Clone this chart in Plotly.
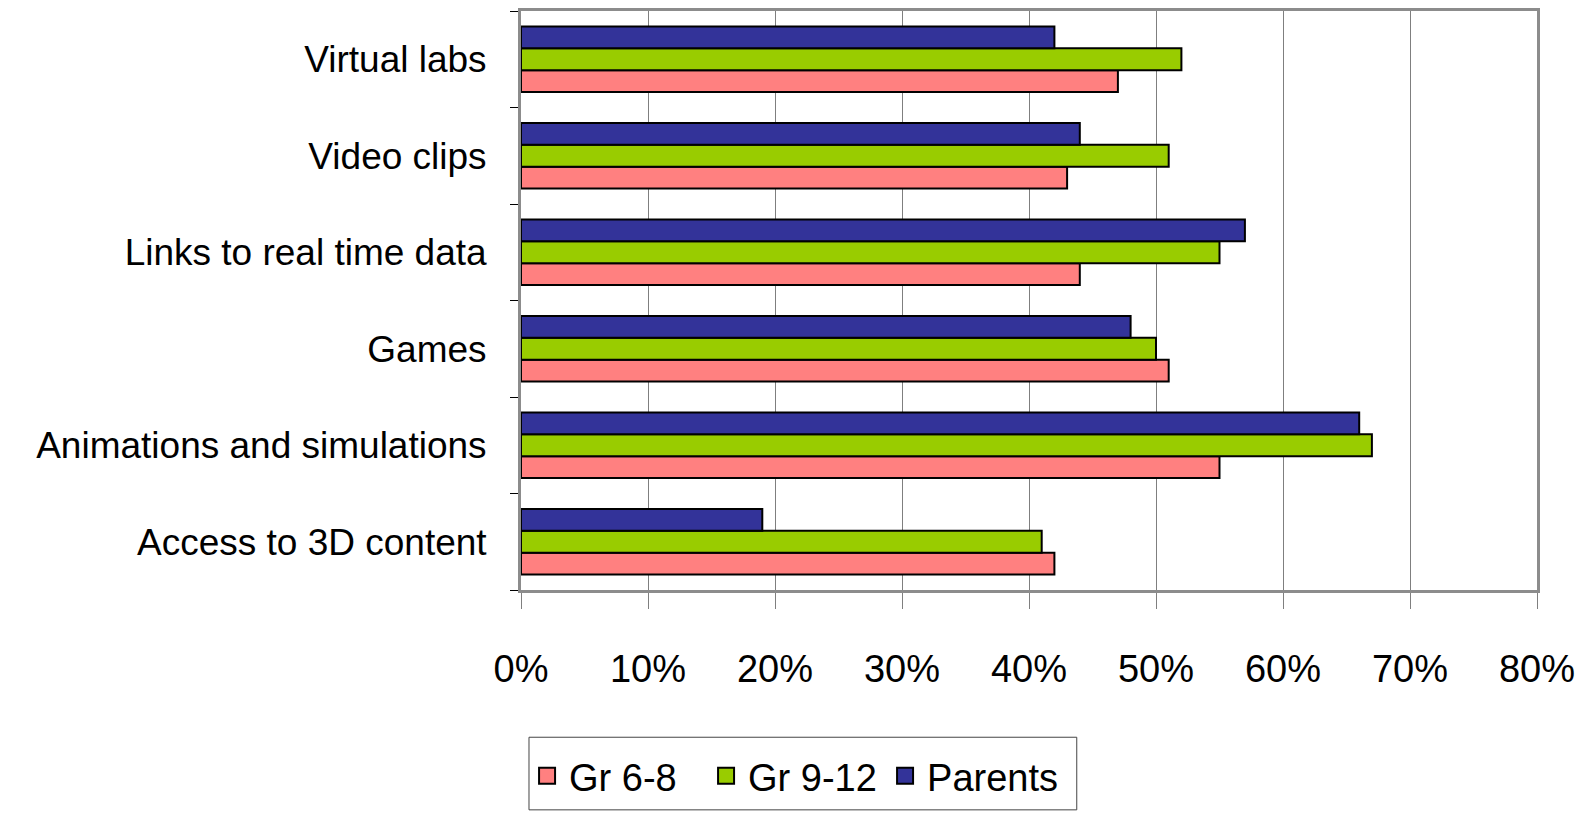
import plotly.graph_objects as go

categories = ["Access to 3D content", "Animations and simulations", "Games",
              "Links to real time data", "Video clips", "Virtual labs"]
gr_6_8 = [0.42, 0.55, 0.51, 0.44, 0.43, 0.47]
gr_9_12 = [0.41, 0.67, 0.50, 0.55, 0.51, 0.52]
parents = [0.19, 0.66, 0.48, 0.57, 0.44, 0.42]
series_names = ["Gr 6-8", "Gr 9-12", "Parents"]
series_colors = ["#FF8080", "#99CC00", "#333399"]
x_ticks = [0, 0.1, 0.2, 0.3, 0.4, 0.5, 0.6, 0.7, 0.8]
x_tick_labels = ["0%", "10%", "20%", "30%", "40%", "50%", "60%", "70%", "80%"]

FONT = "Liberation Sans, Arial, sans-serif"

fig = go.Figure()
for name, vals, col in zip(series_names, [gr_6_8, gr_9_12, parents], series_colors):
    fig.add_trace(go.Bar(
        y=categories, x=vals, name=name, orientation="h", showlegend=False,
        marker=dict(color=col, line=dict(color="black", width=2)),
    ))
# legend entries with larger square swatches
for name, col in zip(series_names, series_colors):
    fig.add_trace(go.Scatter(
        x=[None], y=[None], name=name, mode="markers",
        marker=dict(symbol="square", size=20, color=col,
                    line=dict(color="black", width=2)),
    ))

fig.update_layout(
    width=1589, height=813,
    paper_bgcolor="white", plot_bgcolor="white",
    margin=dict(l=513, r=60, t=0, b=231),
    barmode="group", bargap=0.32, bargroupgap=0,
    font=dict(family=FONT, size=37, color="black"),
    showlegend=True,
    legend=dict(
        orientation="h", x=0.004, y=-0.3213, xanchor="left", yanchor="middle",
        borderwidth=0, bgcolor="rgba(0,0,0,0)",
        font=dict(family=FONT, size=38, color="black"),
        traceorder="normal", itemwidth=34, itemsizing="trace",
        entrywidth=130, entrywidthmode="pixels",
    ),
    shapes=[dict(type="rect", xref="paper", yref="paper",
                 x0=0.00787, x1=0.547, y0=-0.2543, y1=-0.3797,
                 line=dict(color="#444444", width=1), layer="below")],
    xaxis=dict(
        range=[0, 0.8], tickvals=x_ticks, ticktext=x_tick_labels,
        showgrid=True, gridcolor="#7f7f7f", gridwidth=1,
        showline=True, linecolor="#8c8c8c", linewidth=3, mirror=True,
        ticks="outside", ticklen=16, tickcolor="#7f7f7f", tickwidth=1,
        ticklabelstandoff=27,
        tickfont=dict(family=FONT, size=38, color="black"),
        zeroline=False, fixedrange=True,
    ),
    yaxis=dict(
        categoryorder="array", categoryarray=categories,
        showline=True, linecolor="#8c8c8c", linewidth=3, mirror=True,
        ticks="outside", ticklen=8, tickcolor="black", tickwidth=1,
        tickson="boundaries", ticklabelstandoff=24,
        tickfont=dict(family=FONT, size=37, color="black"),
        showgrid=False, fixedrange=True,
    ),
)

fig.write_html("out.html")
